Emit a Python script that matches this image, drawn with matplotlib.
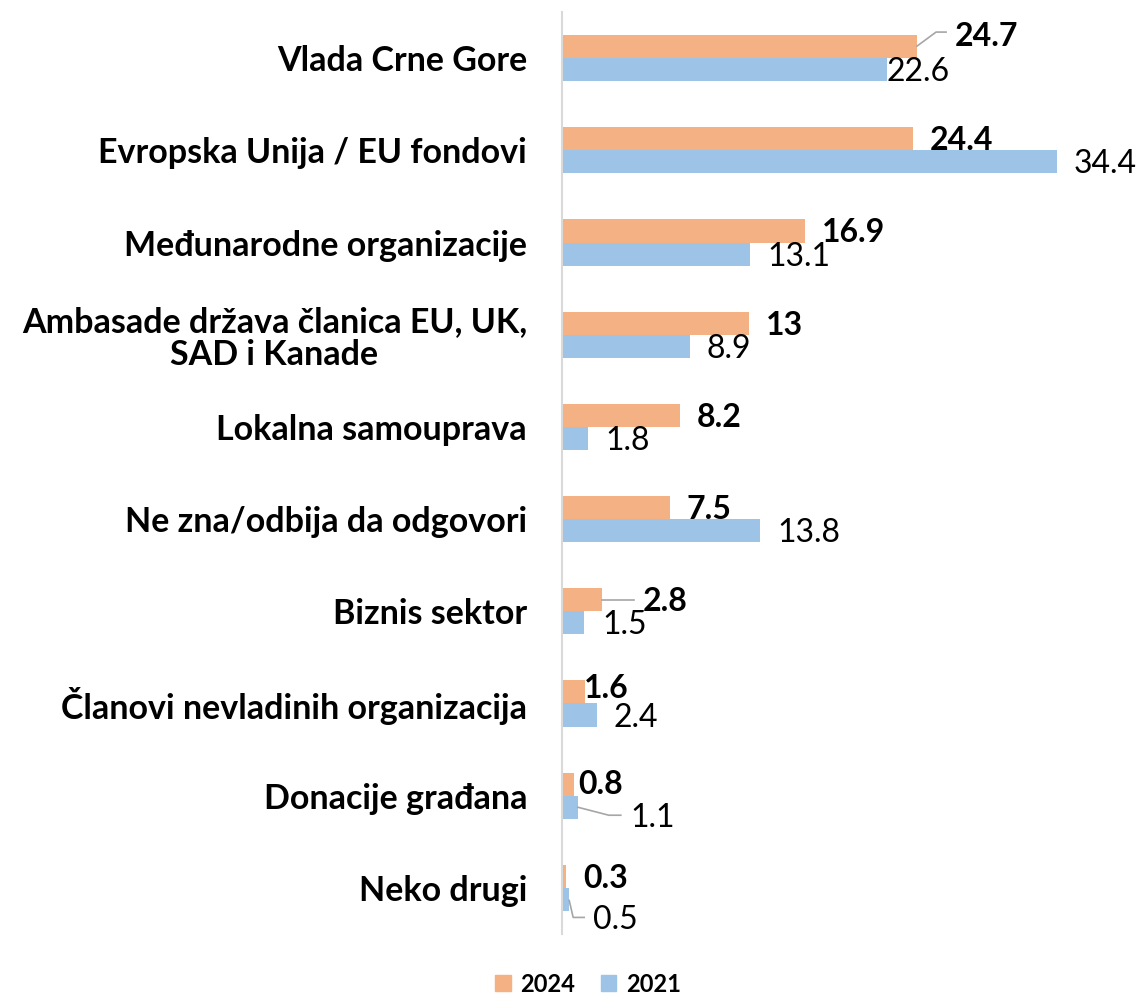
import matplotlib
matplotlib.use("Agg")
import matplotlib.pyplot as plt
from matplotlib.patches import Patch
from matplotlib.lines import Line2D
import numpy as np


# =========================
# Data
# =========================

categories = [
    "Vlada Crne Gore",
    "Evropska Unija / EU fondovi",
    "Međunarodne organizacije",
    "Ambasade država članica EU, UK,\nSAD i Kanade",
    "Lokalna samouprava",
    "Ne zna/odbija da odgovori",
    "Biznis sektor",
    "Članovi nevladinih organizacija",
    "Donacije građana",
    "Neko drugi",
]

values_2024 = [24.7, 24.4, 16.9, 13, 8.2, 7.5, 2.8, 1.6, 0.8, 0.3]
values_2021 = [22.6, 34.4, 13.1, 8.9, 1.8, 13.8, 1.5, 2.4, 1.1, 0.5]

labels_2024 = ["24.7", "24.4", "16.9", "13", "8.2", "7.5", "2.8", "1.6", "0.8", "0.3"]
labels_2021 = ["22.6", "34.4", "13.1", "8.9", "1.8", "13.8", "1.5", "2.4", "1.1", "0.5"]


# =========================
# Style
# =========================

c_2024 = "#F4B183"
c_2021 = "#9DC3E6"
c_axis = "#D9D9D9"
c_leader = "#A6A6A6"

font = ["Lato", "DejaVu Sans"]
plt.rcParams["font.family"] = font

val_size = 23
cat_size = 24.5
cap_px = 0.72 * val_size * 100 / 72   # cap height in pixels

# label offsets (pixels) from bar end / bar centre, per bar
off_2024 = [(38, 12.5), (17, 0), (17, 0), (17, 0), (17, 0),
            (17, 0), (41, 0), (-1, 5), (5, 2), (17, 0)]
off_2021 = [(0, 0), (17, 0), (17, 0), (17, 0), (17, 0),
            (17, 0), (19, 0), (17, 0), (53, -8), (24, -18)]

# leader lines: (series, index, vertices in pixel offsets)
leaders = [
    ("2024", 0, [(0, 0.5), (19, 14.5), (29, 14.5)]),
    ("2024", 6, [(0, 0), (32, 0)]),
    ("2021", 8, [(0, 0), (31, -8), (43, -8)]),
    ("2021", 9, [(0, -1), (4, -18), (15, -18)]),
]


# =========================
# Figure
# =========================

W, H = 1143, 994
fig = plt.figure(figsize=(W / 100, H / 100), dpi=100)

ax = fig.add_axes([562 / W, 1 - 934 / H, 575 / W, 922 / H])

y = np.arange(len(categories))
bh = 0.25

ax.barh(y - bh / 2, values_2024, height=bh, color=c_2024)
ax.barh(y + bh / 2, values_2021, height=bh, color=c_2021)

ax.set_xlim(0, 40)
ax.set_ylim(len(categories) - 0.5, -0.5)

ax.set_yticks(y)
ax.set_yticklabels(categories, fontsize=cat_size, fontweight="bold")
for t in ax.get_yticklabels():
    t.set_multialignment("center")
    t.set_linespacing(1.05)
ax.tick_params(axis="y", length=0, pad=35 * 0.72)
ax.set_xticks([])

for s in ["top", "right", "bottom"]:
    ax.spines[s].set_visible(False)
ax.spines["left"].set_color(c_axis)
ax.spines["left"].set_linewidth(1.5)


# =========================
# Value labels
# =========================

for i in range(len(categories)):

    dx, dy = off_2024[i]
    ax.annotate(
        labels_2024[i],
        xy=(values_2024[i], y[i] - bh / 2),
        xytext=(dx, dy - cap_px / 2),
        textcoords="offset pixels",
        ha="left", va="baseline",
        fontsize=val_size, fontweight="bold",
        annotation_clip=False
    )

    dx, dy = off_2021[i]
    ax.annotate(
        labels_2021[i],
        xy=(values_2021[i], y[i] + bh / 2),
        xytext=(dx, dy - cap_px / 2),
        textcoords="offset pixels",
        ha="left", va="baseline",
        fontsize=val_size,
        annotation_clip=False
    )


# leader lines
for series, i, pts in leaders:

    if series == "2024":
        base = ax.transData.transform((values_2024[i], y[i] - bh / 2))
    else:
        base = ax.transData.transform((values_2021[i], y[i] + bh / 2))

    xs = [(base[0] + p[0]) / W for p in pts]
    ys = [(base[1] + p[1]) / H for p in pts]

    fig.add_artist(
        Line2D(xs, ys, transform=fig.transFigure,
               color=c_leader, linewidth=1.2)
    )


# =========================
# Legend
# =========================

handles = [
    Patch(color=c_2024, label="2024"),
    Patch(color=c_2021, label="2021"),
]

fig.legend(
    handles=handles,
    loc="center",
    bbox_to_anchor=(588 / W, 1 - 984 / H),
    ncol=2,
    frameon=False,
    prop={"family": font, "size": 17, "weight": "bold"},
    handlelength=0.65,
    handleheight=0.65,
    handletextpad=0.4,
    columnspacing=1.1
)


fig.savefig("out.png", dpi=100)
